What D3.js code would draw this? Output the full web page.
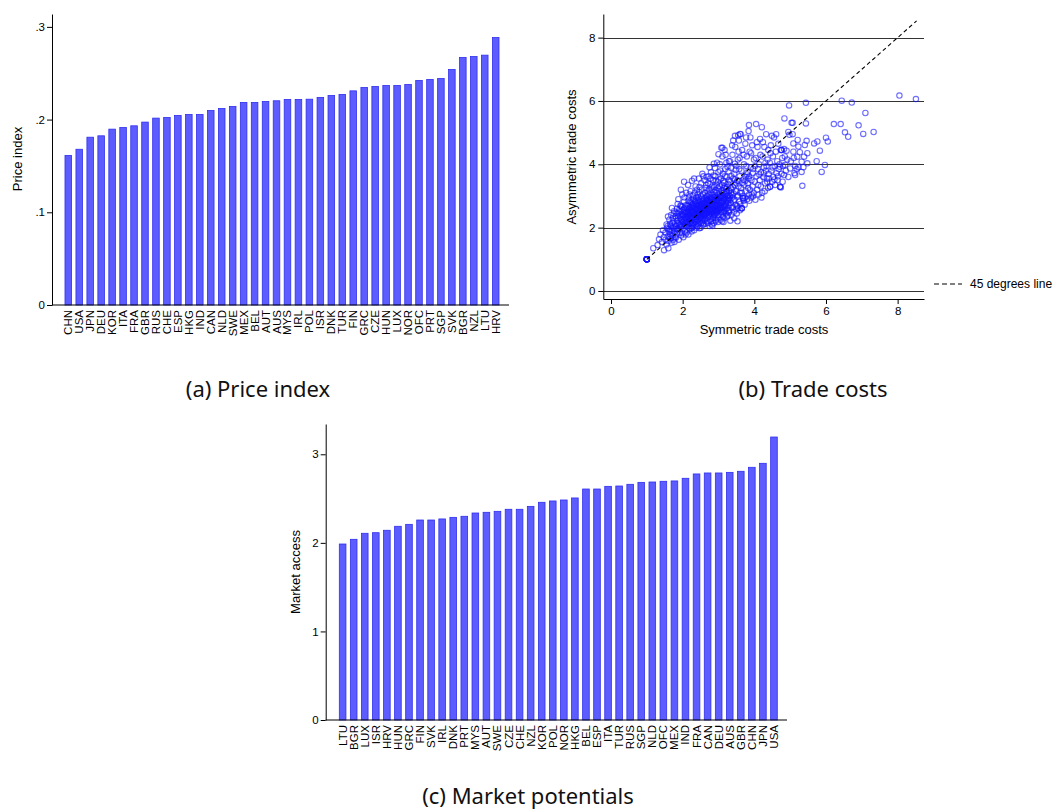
<!DOCTYPE html>
<html><head><meta charset="utf-8">
<script src="https://cdn.jsdelivr.net/npm/d3@7"></script>
<style>
body{margin:0;background:#fff}
svg{display:block}
text{font-family:"Liberation Sans",Arial,Helvetica,sans-serif;fill:#000}
.cap{font-family:"Noto Sans","Open Sans",sans-serif;font-size:22px;fill:#111}
</style>
</head><body>
<svg id="chart" width="1054" height="812"></svg>
<script>
// ---------- DATA ----------
const priceCountries = ["CHN","USA","JPN","DEU","KOR","ITA","FRA","GBR","RUS","CHE","ESP","HKG","IND","CAN","NLD","SWE","MEX","BEL","AUT","AUS","MYS","IRL","POL","ISR","DNK","TUR","FIN","GRC","CZE","HUN","LUX","NOR","OFC","PRT","SGP","SVK","BGR","NZL","LTU","HRV"];
const priceValues = [0.1613,0.168,0.181,0.1825,0.1897,0.1915,0.1933,0.1973,0.2016,0.2023,0.2045,0.2055,0.2055,0.2098,0.212,0.2142,0.2185,0.2185,0.2195,0.2203,0.2217,0.2217,0.222,0.2239,0.226,0.2271,0.231,0.2346,0.2357,0.2368,0.2368,0.2379,0.2422,0.2433,0.2443,0.254,0.267,0.268,0.2695,0.2885];
const priceTicks = [0,0.1,0.2,0.3];
const priceTickLabels = ["0",".1",".2",".3"];

const marketCountries = ["LTU","BGR","LUX","ISR","HRV","HUN","GRC","FIN","SVK","IRL","DNK","PRT","MYS","AUT","SWE","CZE","CHE","NZL","KOR","POL","NOR","HKG","BEL","ESP","ITA","TUR","RUS","SGP","NLD","OFC","MEX","IND","FRA","CAN","DEU","AUS","GBR","CHN","JPN","USA"];
const marketValues = [1.987,2.04,2.108,2.115,2.142,2.187,2.209,2.258,2.258,2.27,2.288,2.30,2.337,2.345,2.356,2.379,2.379,2.412,2.458,2.473,2.484,2.507,2.608,2.608,2.638,2.642,2.661,2.683,2.687,2.695,2.699,2.729,2.778,2.789,2.789,2.796,2.808,2.853,2.898,3.195];
const marketTicks = [0,1,2,3];
const marketTickLabels = ["0","1","2","3"];

const tradeTicks = [0,2,4,6,8];
const diagonalEnds = [1, 8.53];
// [symmetric, asymmetric] trade costs
const tradePoints = [
[1,1],[1,1],[1,1],[1,1],[1,1],[1,1],[1,1],[1,1],[1,1],[1,1],
[1.18,1.35],[1.34,1.63],[1.48,1.29],[1.6,1.35],[1.42,1.55],[1.38,1.78],[1.45,1.92],[1.52,1.62],[1.55,1.47],[1.47,1.70],[1.30,1.45],[1.58,2.05],
[1.52,1.85],[1.55,2.10],[1.58,1.72],[1.60,1.58],[1.61,1.95],[1.63,2.25],[1.64,1.80],[1.66,1.66],[1.67,2.05],[1.68,2.40],[1.69,1.52],[1.70,1.90],[1.71,2.15],[1.72,1.74],[1.73,2.30],[1.74,1.62],[1.75,1.98],[1.76,2.52],[1.77,1.85],[1.78,2.10],[1.79,1.70],[1.80,2.36],[1.62,1.88],[1.65,2.12],[1.70,2.62],[1.74,2.20],[1.77,1.55],[1.56,1.98],[1.69,1.76],[1.72,2.02],[1.59,2.35],[1.66,1.92],[1.75,2.44],[1.79,1.95],[1.63,1.70],
[1.81,1.68],[1.82,2.05],[1.83,2.48],[1.84,1.80],[1.85,2.22],[1.86,2.75],[1.87,1.92],[1.88,2.35],[1.89,1.62],[1.90,2.12],[1.91,2.58],[1.92,1.85],[1.93,2.30],[1.94,2.02],[1.95,2.68],[1.96,1.75],[1.97,2.42],[1.98,2.18],[1.99,3.05],[2.00,1.95],[2.01,2.55],[2.02,1.70],[2.03,2.28],[2.04,2.82],[2.05,2.08],[2.06,2.45],[2.07,1.88],[2.08,2.62],[2.09,2.20],[2.10,3.10],[1.84,2.60],[1.87,2.15],[1.90,1.98],[1.93,2.52],[1.96,2.25],[1.99,1.82],[2.02,2.38],[2.05,2.95],[2.08,1.78],[1.82,2.30],[1.88,2.90],[1.94,2.70],[2.00,2.40],[2.06,2.15],[1.85,1.95],[1.91,2.38],[1.97,2.05],[2.03,2.60],[2.09,2.48],[1.86,2.45],[1.95,3.20],[2.04,3.45],[1.92,2.08],[2.07,2.32],[1.98,2.65],
[2.11,1.85],[2.12,2.35],[2.13,2.72],[2.14,2.05],[2.15,2.50],[2.16,1.78],[2.17,2.95],[2.18,2.22],[2.19,2.62],[2.20,1.95],[2.21,2.42],[2.22,3.15],[2.23,2.12],[2.24,2.78],[2.25,1.88],[2.26,2.55],[2.27,2.30],[2.28,3.02],[2.29,2.05],[2.30,2.68],[2.31,2.40],[2.32,1.92],[2.33,2.85],[2.34,2.18],[2.35,2.58],[2.36,3.30],[2.37,2.28],[2.38,2.72],[2.39,2.00],[2.40,2.48],[2.12,2.60],[2.14,2.28],[2.16,2.85],[2.18,2.45],[2.20,2.15],[2.22,2.65],[2.24,2.38],[2.26,2.00],[2.28,2.50],[2.30,2.90],[2.32,2.25],[2.34,2.62],[2.36,2.10],[2.38,2.95],[2.40,2.35],[2.13,2.18],[2.17,2.38],[2.21,2.82],[2.25,2.48],[2.29,2.75],[2.33,2.42],[2.37,2.55],[2.15,3.35],[2.19,3.05],[2.23,2.55],[2.27,2.70],[2.31,2.12],[2.35,2.80],[2.39,2.62],[2.11,2.50],[2.26,3.48],[2.34,3.10],[2.20,2.30],[2.24,1.98],[2.30,2.52],[2.38,2.18],[2.16,2.68],[2.28,2.35],[2.32,3.55],[2.40,3.20],
[2.41,2.05],[2.42,2.58],[2.43,2.88],[2.44,2.25],[2.45,2.70],[2.46,3.12],[2.47,1.98],[2.48,2.45],[2.49,2.82],[2.50,2.30],[2.51,2.62],[2.52,3.40],[2.53,2.15],[2.54,2.75],[2.55,2.50],[2.56,3.05],[2.57,2.08],[2.58,2.65],[2.59,2.38],[2.60,2.92],[2.61,2.22],[2.62,2.80],[2.63,2.55],[2.64,3.25],[2.65,2.12],[2.66,2.70],[2.67,2.45],[2.68,3.00],[2.69,2.32],[2.70,2.88],[2.42,2.40],[2.44,2.95],[2.46,2.55],[2.48,2.18],[2.50,2.75],[2.52,2.48],[2.54,2.92],[2.56,2.28],[2.58,2.85],[2.60,2.60],[2.62,2.40],[2.64,2.95],[2.66,2.58],[2.68,2.20],[2.70,2.68],[2.43,2.68],[2.47,2.35],[2.51,3.00],[2.55,2.62],[2.59,2.12],[2.63,2.72],[2.67,2.90],[2.45,3.55],[2.49,2.60],[2.53,3.20],[2.57,2.78],[2.61,3.50],[2.65,2.85],[2.69,2.52],[2.41,2.78],[2.50,2.00],[2.58,2.45],[2.66,3.35],[2.44,2.10],[2.52,2.68],[2.60,2.35],[2.68,2.78],[2.47,3.28],[2.55,3.70],[2.63,2.30],[2.70,3.15],[2.42,3.05],[2.48,2.52],[2.56,2.42],[2.62,3.10],[2.54,2.38],[2.64,2.48],[2.46,2.85],[2.58,3.62],[2.67,3.60],
[2.71,2.15],[2.72,2.62],[2.73,3.05],[2.74,2.40],[2.75,2.82],[2.76,3.38],[2.77,2.25],[2.78,2.70],[2.79,2.95],[2.80,2.48],[2.81,3.20],[2.82,2.10],[2.83,2.75],[2.84,2.55],[2.85,3.50],[2.86,2.32],[2.87,2.88],[2.88,2.62],[2.89,3.12],[2.90,2.40],[2.91,2.98],[2.92,2.20],[2.93,2.70],[2.94,3.35],[2.95,2.52],[2.96,2.85],[2.97,2.30],[2.98,3.05],[2.99,2.65],[3.00,3.75],[2.72,2.85],[2.74,3.20],[2.76,2.58],[2.78,2.35],[2.80,2.90],[2.82,2.68],[2.84,3.02],[2.86,2.45],[2.88,2.95],[2.90,2.72],[2.92,3.18],[2.94,2.48],[2.96,2.60],[2.98,2.38],[3.00,2.95],[2.73,2.50],[2.77,3.55],[2.81,2.42],[2.85,2.80],[2.89,2.52],[2.93,3.48],[2.97,2.78],[2.71,3.40],[2.75,2.05],[2.79,3.75],[2.83,3.30],[2.87,2.15],[2.91,3.62],[2.95,3.10],[2.99,2.18],[2.74,2.72],[2.82,2.92],[2.90,3.88],[2.98,3.45],[2.76,2.95],[2.84,2.30],[2.92,2.58],[3.00,2.55],[2.78,3.10],[2.86,3.65],[2.94,2.90],[2.80,2.20],[2.88,3.28],[2.96,4.05],[2.72,3.62],[2.87,4.02],[2.83,2.05],[2.93,2.25],[2.99,3.25],[2.75,3.90],
[3.01,2.40],[3.02,2.85],[3.03,3.30],[3.04,2.62],[3.05,3.05],[3.06,2.25],[3.07,3.55],[3.08,2.78],[3.09,3.18],[3.10,2.50],[3.11,2.95],[3.12,3.70],[3.13,2.35],[3.14,3.10],[3.15,2.70],[3.16,3.42],[3.17,2.55],[3.18,2.92],[3.19,3.85],[3.20,2.45],[3.21,3.22],[3.22,2.80],[3.23,3.60],[3.24,2.62],[3.25,3.00],[3.26,2.38],[3.27,3.38],[3.28,2.88],[3.29,4.10],[3.30,2.70],[3.02,3.52],[3.04,4.00],[3.06,2.95],[3.08,2.40],[3.10,3.35],[3.12,2.65],[3.14,2.88],[3.16,2.30],[3.18,3.62],[3.20,3.05],[3.22,2.58],[3.24,3.28],[3.26,2.95],[3.28,3.78],[3.30,3.15],[3.03,2.70],[3.07,2.48],[3.11,4.25],[3.15,3.25],[3.19,2.72],[3.23,3.15],[3.27,2.52],[3.05,3.80],[3.09,2.62],[3.13,3.48],[3.17,4.45],[3.21,2.90],[3.25,3.92],[3.29,2.48],[3.01,3.15],[3.10,2.20],[3.20,4.30],[3.30,3.50],[3.14,2.18],[3.24,2.35],[3.08,4.52],[3.18,3.30],[3.28,3.02],[3.12,3.00],[3.22,4.05],
[3.31,2.55],[3.32,3.00],[3.33,3.45],[3.34,2.78],[3.35,3.88],[3.36,2.40],[3.37,3.20],[3.38,2.95],[3.39,4.30],[3.40,2.65],[3.41,3.55],[3.42,3.08],[3.43,2.50],[3.44,3.70],[3.45,2.88],[3.46,3.35],[3.47,4.55],[3.48,2.72],[3.49,3.15],[3.50,3.95],[3.51,2.45],[3.52,3.48],[3.53,2.98],[3.54,4.15],[3.55,2.62],[3.56,3.30],[3.57,4.75],[3.58,2.82],[3.59,3.62],[3.60,3.10],[3.32,4.10],[3.36,3.62],[3.40,3.28],[3.44,2.30],[3.48,3.82],[3.52,2.68],[3.56,4.40],[3.60,2.55],[3.34,3.25],[3.38,4.60],[3.42,2.85],[3.46,4.02],[3.50,3.40],[3.54,3.02],[3.58,3.85],[3.33,2.22],[3.41,4.75],[3.49,2.58],[3.57,3.48],[3.35,3.10],[3.45,3.52],[3.55,4.92],[3.39,2.62],[3.53,2.20],[3.59,4.20],[3.46,4.90],[3.60,4.96],[3.11,4.52],[3.00,4.32],
[3.61,2.75],[3.63,3.25],[3.64,3.80],[3.65,2.61],[3.66,4.45],[3.68,3.00],[3.69,3.52],[3.70,2.85],[3.71,4.00],[3.72,3.35],[3.74,2.95],[3.75,4.65],[3.76,3.60],[3.77,3.15],[3.79,4.25],[3.80,2.90],[3.81,3.75],[3.82,3.40],[3.84,5.05],[3.85,3.05],[3.86,3.62],[3.87,4.40],[3.88,3.20],[3.90,3.90],[3.91,2.95],[3.92,3.50],[3.94,4.60],[3.95,3.30],[3.96,3.72],[3.98,3.10],[3.99,4.15],[3.85,5.24],[3.62,4.95],[3.67,3.42],[3.73,2.72],[3.78,3.95],[3.83,3.25],[3.89,4.85],[3.93,3.05],[3.97,3.85],[3.65,3.10],[3.70,4.30],[3.75,3.48],[3.80,3.68],[3.86,2.85],[3.91,4.35],[3.96,2.98],[3.69,2.92],[3.77,4.85],[3.84,3.55],[3.69,2.93],[3.65,2.61],
[4.01,3.45],[4.03,2.88],[4.04,4.20],[4.05,5.27],[4.06,3.62],[4.08,3.20],[4.09,4.55],[4.10,3.85],[4.12,3.05],[4.13,4.00],[4.15,3.50],[4.16,4.80],[4.18,3.30],[4.19,3.75],[4.21,5.17],[4.22,3.10],[4.23,4.25],[4.25,3.60],[4.27,3.90],[4.28,4.55],[4.30,3.40],[4.32,3.80],[4.33,4.95],[4.35,3.55],[4.37,4.15],[4.38,3.25],[4.40,3.70],[4.02,3.95],[4.07,4.70],[4.11,3.35],[4.17,4.30],[4.20,2.95],[4.26,3.72],[4.31,4.05],[4.36,3.45],[4.14,3.68],[4.24,4.70],[4.34,3.95],[4.39,4.45],[4.29,3.15],
[4.41,3.55],[4.43,4.05],[4.44,3.29],[4.46,4.60],[4.48,3.80],[4.50,3.45],[4.52,4.25],[4.53,3.60],[4.55,4.85],[4.57,3.95],[4.58,3.35],[4.60,4.40],[4.62,3.72],[4.64,4.10],[4.65,3.50],[4.67,4.65],[4.68,3.85],[4.70,4.00],[4.72,3.29],[4.74,4.45],[4.76,3.70],[4.78,4.20],[4.45,4.35],[4.51,3.90],[4.56,3.52],[4.61,4.95],[4.66,3.62],[4.71,3.92],[4.76,4.45],[4.49,4.90],
[8.05,6.17],[8.51,6.06],[6.44,6.01],[6.72,5.95],[5.44,5.94],[4.97,5.86],[7.10,5.62],[4.84,5.45],[5.07,5.31],[5.44,5.29],[6.22,5.27],[6.41,5.27],[6.91,5.23],[4.95,5.02],[6.53,5.01],[6.62,4.87],[7.04,4.96],[7.33,5.02],[5.07,4.95],[6.00,4.84],[6.05,4.72],[5.76,4.72],[5.67,4.66],[5.46,4.74],[5.21,4.77],[5.09,4.66],[5.41,4.61],[5.83,4.43],[4.83,4.48],[5.23,4.56],[5.09,4.40],[5.27,4.38],[5.48,4.35],[5.39,4.24],[5.20,4.24],[4.90,4.43],[5.74,4.10],[5.97,3.98],[5.88,3.76],[5.32,4.08],[5.14,3.95],[5.37,3.91],[5.00,3.87],[4.86,3.98],[5.32,3.76],[5.14,3.66],[4.83,3.66],[5.34,3.32],[4.79,3.45],[4.74,3.27],[5.48,4.03],[5.23,3.91],[5.04,5.31],[4.98,4.93],[4.76,4.45],[5.12,3.72],[4.72,3.29],[4.44,3.29],[3.69,2.93],[3.65,2.61],[4.92,4.15],[4.88,3.80],[5.02,4.10],[4.95,3.60],[4.85,4.25],[5.10,4.20],[4.80,3.95],[5.18,3.85],
[2.05,2.25],[2.08,2.05],[2.12,2.15],[2.15,2.35],[2.18,1.98],[2.22,2.28],[2.25,2.65],[2.28,2.15],[2.32,2.48],[2.35,2.32],[2.38,2.42],[2.42,2.22],[2.45,2.48],[2.48,2.65],[2.52,2.35],[2.55,2.20],[2.58,2.55],[2.62,2.65],[2.65,2.42],[2.68,2.60],[2.72,2.35],[2.75,2.55],[2.78,2.82],[2.82,2.50],[2.85,2.65],[2.88,2.40],[2.92,2.85],[2.95,2.68],[2.98,2.88],[3.02,2.60],[3.05,2.78],[3.08,3.00],[3.12,2.80],[3.15,2.52],[3.18,2.68],[3.22,3.10],[3.26,2.78],[2.15,2.10],[2.19,2.52],[2.23,2.35],[2.27,2.10],[2.31,2.60],[2.35,2.45],[2.39,2.25],[2.43,2.55],[2.47,2.72],[2.51,2.45],[2.55,2.85],[2.59,2.58],[2.63,2.42],[2.67,2.75],[2.71,2.50],[2.75,2.68],[2.79,2.58],[2.83,2.88],[2.87,2.70],[2.91,2.55],[2.95,2.95],[2.99,2.75],[3.03,2.95],[3.07,2.70],[3.11,3.10],[3.15,2.90],[1.95,2.10],[1.98,2.35],[2.01,2.18],[2.04,2.50],[2.07,2.70],[2.10,2.28],[2.13,2.42],[2.17,2.58],[2.21,2.18],[2.25,2.88],[2.29,2.62],[2.33,2.32],[2.37,2.85],[2.41,2.65],[2.45,2.38],[2.49,2.28],[2.53,2.58],[2.57,2.40],[2.61,2.75],[2.65,2.62],[2.69,2.88],[2.73,2.78],[2.77,2.45],[2.81,2.75],[2.85,2.52],[2.89,2.85],[2.93,2.62],[2.97,2.50],[3.01,2.82],[3.05,2.58],[3.09,2.85],[3.13,2.62],[3.17,3.00],[3.21,2.70],[3.25,2.85],[3.29,2.92],[3.33,2.88],[3.37,3.05]
];

const captions = ["(a) Price index","(b) Trade costs","(c) Market potentials"];

// ---------- DRAW ----------
const svg = d3.select("#chart");
const barFill = "#5c5cff", barStroke = "#3030ee";

function barPanel(cfg){
  const g = svg.append("g");
  const x = d3.scaleBand().domain(cfg.cats).range(cfg.xr).paddingInner(0.4).paddingOuter(0.2);
  const y = d3.scaleLinear().domain([0, cfg.vTop]).range(cfg.yr);
  g.selectAll("rect.bar").data(cfg.vals).join("rect")
    .attr("class","bar")
    .attr("x",(d,i)=>x(cfg.cats[i]))
    .attr("width",x.bandwidth())
    .attr("y",d=>y(d))
    .attr("height",d=>y(0)-y(d))
    .attr("fill",barFill).attr("stroke",barStroke).attr("stroke-width",0.8);
  const ya = g.append("g").attr("transform",`translate(${cfg.axisX},0)`)
    .call(d3.axisLeft(y).tickValues(cfg.ticks).tickFormat((d,i)=>cfg.tickLabels[i]).tickSize(5).tickSizeOuter(0).tickPadding(2));
  ya.select(".domain").attr("stroke","#000");
  ya.selectAll("text").style("font-size","11.5px").attr("fill","#000").style("font-family","'Liberation Sans',Arial,sans-serif");
  g.append("line").attr("x1",cfg.axisX).attr("x2",cfg.axisEnd).attr("y1",y(0)).attr("y2",y(0)).attr("stroke","#000");
  g.selectAll("text.cat").data(cfg.cats).join("text").attr("class","cat")
    .attr("transform",d=>`translate(${x(d)+x.bandwidth()/2+4},${y(0)+5}) rotate(-90)`)
    .attr("text-anchor","end").style("font-size","11.5px").text(d=>d);
  g.append("text").attr("transform",`translate(${cfg.titleX},${cfg.titleY}) rotate(-90)`)
    .attr("text-anchor","middle").style("font-size","13px").text(cfg.title);
}

barPanel({cats:priceCountries, vals:priceValues, xr:[62.8,501.2], vTop:0.3139, yr:[305,14],
  ticks:priceTicks, tickLabels:priceTickLabels, axisX:52, axisEnd:509, title:"Price index", titleX:21.5, titleY:159});
barPanel({cats:marketCountries, vals:marketValues, xr:[337.1,779.5], vTop:3.342, yr:[720,424],
  ticks:marketTicks, tickLabels:marketTickLabels, axisX:325.7, axisEnd:787, title:"Market access", titleX:299.5, titleY:572});

// scatter panel
(function(){
  const g = svg.append("g");
  const x = d3.scaleLinear().domain([-0.215, 8.736]).range([603.3, 924]);
  const y = d3.scaleLinear().domain([-0.253, 8.746]).range([299, 14]);
  g.selectAll("line.grid").data(tradeTicks).join("line").attr("class","grid")
    .attr("x1",x.range()[0]).attr("x2",x.range()[1])
    .attr("y1",d=>Math.round(y(d))+0.5).attr("y2",d=>Math.round(y(d))+0.5)
    .attr("stroke","#333").attr("stroke-width",1);
  g.selectAll("circle").data(tradePoints).join("circle")
    .attr("cx",d=>x(d[0])).attr("cy",d=>y(d[1])).attr("r",2.7)
    .attr("fill","none").attr("stroke","rgba(20,20,255,0.62)").attr("stroke-width",1.1);
  g.append("line").attr("x1",x(diagonalEnds[0])).attr("y1",y(diagonalEnds[0]))
    .attr("x2",x(diagonalEnds[1])).attr("y2",y(diagonalEnds[1]))
    .attr("stroke","#000").attr("stroke-width",1.1).attr("stroke-dasharray","4,3");
  const ya = g.append("g").attr("transform",`translate(${x.range()[0]},0)`)
    .call(d3.axisLeft(y).tickValues(tradeTicks).tickSize(5).tickSizeOuter(0).tickPadding(3));
  const xa = g.append("g").attr("transform",`translate(0,${y.range()[0]})`)
    .call(d3.axisBottom(x).tickValues(tradeTicks).tickSize(5).tickSizeOuter(0).tickPadding(3));
  [ya,xa].forEach(a=>{a.select(".domain").attr("stroke","#000");
    a.selectAll("text").style("font-size","11.5px").attr("fill","#000").style("font-family","'Liberation Sans',Arial,sans-serif");});
  g.append("text").attr("transform","translate(575.5,157) rotate(-90)").attr("text-anchor","middle").style("font-size","13px").text("Asymmetric trade costs");
  g.append("text").attr("x",764).attr("y",334).attr("text-anchor","middle").style("font-size","13px").text("Symmetric trade costs");
  g.append("line").attr("x1",934).attr("x2",962).attr("y1",284).attr("y2",284).attr("stroke","#000").attr("stroke-dasharray","5,3");
  g.append("text").attr("x",970).attr("y",288).style("font-size","12px").text("45 degrees line");
})();

// captions
svg.append("text").attr("class","cap").attr("x",258).attr("y",397).attr("text-anchor","middle").text(captions[0]);
svg.append("text").attr("class","cap").attr("x",813).attr("y",397).attr("text-anchor","middle").text(captions[1]);
svg.append("text").attr("class","cap").attr("x",528).attr("y",804).attr("text-anchor","middle").text(captions[2]);
</script>
</body></html>
